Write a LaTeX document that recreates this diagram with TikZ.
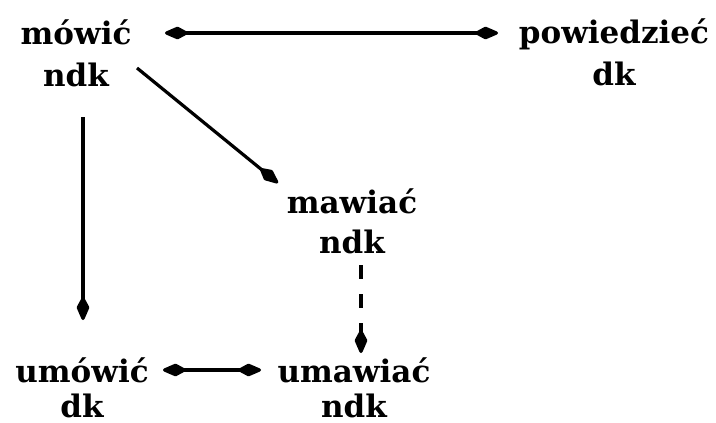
\documentclass[tikz,border=0pt]{standalone}
\usepackage{fontspec}
\setmainfont{DejaVu Serif}
\usetikzlibrary{arrows.meta}
\begin{document}
\begin{tikzpicture}[x=1pt,y=-1pt,
  word/.style={anchor=base,inner sep=0pt,font=\fontsize{31}{31}\selectfont\bfseries},
  spindle/.tip={Kite[length=27pt,width=13pt,inset=12pt,round]},
  link/.style={line width=3.2pt},
  twoway/.style={link,{spindle}-{spindle}},
  oneway/.style={link,-{spindle}}]
\useasboundingbox (0,0) rectangle (716,423);
% verbs with their aspect written below
\node[word] (mowic) at (76,45) {mówić};
\node[word] (mowicA) at (76,86) {ndk};
\node[word] (powiedziec) at (614,43) {powiedzieć};
\node[word] (powiedziecA) at (614,85) {dk};
\node[word] (mawiac) at (352,213) {mawiać};
\node[word] (mawiacA) at (352,253) {ndk};
\node[word] (umowic) at (82,382) {umówić};
\node[word] (umowicA) at (82,417) {dk};
\node[word] (umawiac) at (354,382) {umawiać};
\node[word] (umawiacA) at (354,417) {ndk};
% connectors
\coordinate (tl) at (165,33);
\coordinate (tr) at (498,33);
\draw[twoway] (tl) -- (tr);
\coordinate (d1) at (137,68);
\coordinate (d2) at (278,183);
\draw[oneway] (d1) -- (d2);
\coordinate (v1) at (83,117);
\coordinate (v2) at (83,320);
\draw[oneway] (v1) -- (v2);
\coordinate (m1) at (361,265);
\coordinate (m2) at (361,353);
\draw[oneway,dash pattern=on 14pt off 15pt] (m1) -- (m2);
\coordinate (bl) at (163,370);
\coordinate (br) at (261,370);
\draw[twoway] (bl) -- (br);
\end{tikzpicture}
\end{document}
